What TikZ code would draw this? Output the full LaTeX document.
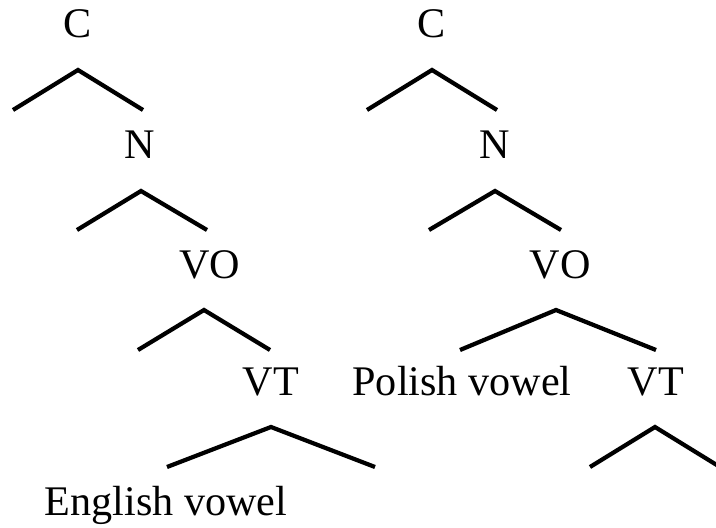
\documentclass[tikz,border=0pt]{standalone}
\usepackage{fontspec}
\setmainfont{Liberation Serif}
\tikzset{
  cat/.style={anchor=base,inner sep=0pt,font=\fontsize{24}{28}\selectfont},
  branch/.style={line width=2.4pt,line join=miter}
}

\begin{document}
\begin{tikzpicture}[x=0.02cm,y=-0.02cm]
\useasboundingbox(0,0)rectangle(716,527);
\clip(0,0)rectangle(716,527);
% left tree
\node[cat](c1)at(78,38){C};
\node[cat](n1)at(140,158){N};
\node[cat](vo1)at(210,278){VO};
\node[cat](vt1)at(271,395){VT};
\node[cat](eng)at(166,515){English vowel};
\coordinate(c1a)at(78,70);   \coordinate(c1l)at(13,110);  \coordinate(c1r)at(143,110);
\coordinate(n1a)at(141,191); \coordinate(n1l)at(77,230);  \coordinate(n1r)at(207,230);
\coordinate(vo1a)at(204,310);\coordinate(vo1l)at(138,350);\coordinate(vo1r)at(270,350);
\coordinate(vt1a)at(271,427);\coordinate(vt1l)at(167,467);\coordinate(vt1r)at(375,467);
\draw[branch](c1l)--(c1a)--(c1r);
\draw[branch](n1l)--(n1a)--(n1r);
\draw[branch](vo1l)--(vo1a)--(vo1r);
\draw[branch](vt1l)--(vt1a)--(vt1r);
% right tree
\node[cat](c2)at(432,38){C};
\node[cat](n2)at(495,158){N};
\node[cat](vo2)at(560,278){VO};
\node[cat](pol)at(462,395){Polish vowel};
\node[cat](vt2)at(656,395){VT};
\coordinate(c2a)at(432,70);  \coordinate(c2l)at(367,110); \coordinate(c2r)at(497,110);
\coordinate(n2a)at(495,191); \coordinate(n2l)at(429,230); \coordinate(n2r)at(561,230);
\coordinate(vo2a)at(556,310);\coordinate(vo2l)at(460,350);\coordinate(vo2r)at(656,350);
\coordinate(vt2a)at(655,427);\coordinate(vt2l)at(590,467);\coordinate(vt2r)at(720,467);
\draw[branch](c2l)--(c2a)--(c2r);
\draw[branch](n2l)--(n2a)--(n2r);
\draw[branch](vo2l)--(vo2a)--(vo2r);
\draw[branch](vt2l)--(vt2a)--(vt2r);
\end{tikzpicture}
\end{document}
